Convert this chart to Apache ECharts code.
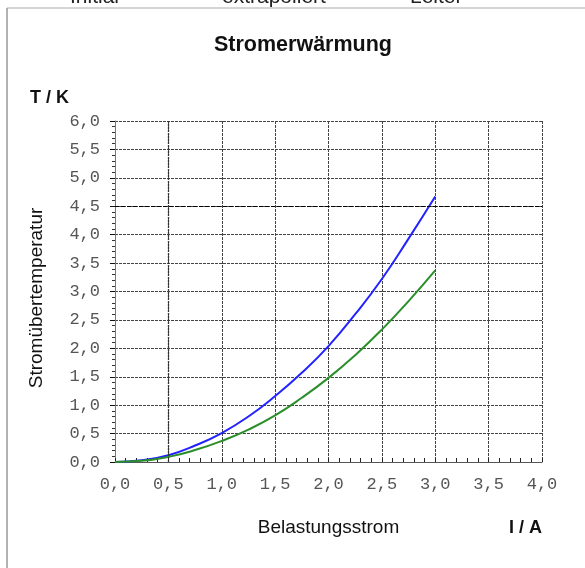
<!DOCTYPE html>
<html>
<head>
<meta charset="utf-8">
<script src="https://cdn.jsdelivr.net/npm/echarts@6/dist/echarts.min.js"></script>
<style>
html,body{margin:0;padding:0;background:#fff;}
#chart{width:585px;height:568px;}
</style>
</head>
<body>
<div id="chart"></div>
<script>
// Data
const current = [0, 0.25, 0.5, 0.75, 1.0, 1.25, 1.5, 1.75, 2.0, 2.25, 2.5, 2.75, 3.0];
const initialTemp = [0, 0.03, 0.12, 0.29, 0.51, 0.80, 1.16, 1.57, 2.04, 2.60, 3.22, 3.93, 4.67];
const leiterTemp = [0, 0.02, 0.09, 0.21, 0.37, 0.57, 0.82, 1.13, 1.48, 1.88, 2.33, 2.83, 3.37];
const extrapoliertTemp = [];
const legendNames = ['Initial', 'extrapoliert', 'Leiter'];
const thresholdY = 4.5;
const thresholdX = 0.5;

const fmt = v => v.toFixed(1).replace('.', ',');
const pairs = (xs, ys) => ys.map((y, i) => [xs[i], y]);

const chart = echarts.init(document.getElementById('chart'), null, {renderer: 'canvas'});
const legendBase = {
  top: -13, orient: 'horizontal', itemWidth: 25, itemHeight: 2, padding: 0, icon: 'rect',
  textStyle: {fontFamily: 'Liberation Sans', fontSize: 21, color: '#222'},
  inactiveColor: '#ccc'
};
chart.setOption({
  backgroundColor: '#fff',
  animation: false,
  title: {
    text: 'Stromerwärmung', left: 214, top: 34, padding: 0,
    textStyle: {fontFamily: 'Liberation Sans', fontWeight: 'bold', fontSize: 21.5, color: '#111'}
  },
  legend: [
    Object.assign({}, legendBase, {left: 40, data: [legendNames[0]]}),
    Object.assign({}, legendBase, {left: 192, data: [legendNames[1]]}),
    Object.assign({}, legendBase, {left: 380, data: [legendNames[2]]})
  ],
  grid: {left: 115, right: 43, top: 121, bottom: 106},
  xAxis: {
    type: 'value', min: 0, max: 4, interval: 0.5,
    name: 'Belastungsstrom', nameLocation: 'middle', nameGap: 56,
    nameTextStyle: {fontFamily: 'Liberation Sans', fontSize: 19, color: '#111'},
    axisLine: {show: true, lineStyle: {color: '#555', width: 1}},
    axisTick: {show: true, inside: true, length: 4, lineStyle: {color: '#222'}},
    minorTick: {show: true, splitNumber: 5, length: 4, lineStyle: {color: '#222'}},
    axisLabel: {formatter: fmt, margin: 14, fontFamily: 'Liberation Mono', fontSize: 17, color: '#555'},
    splitLine: {show: true, lineStyle: {color: '#444', type: [3, 1], width: 1}}
  },
  yAxis: {
    type: 'value', min: 0, max: 6, interval: 0.5,
    name: 'Stromübertemperatur', nameLocation: 'middle', nameGap: 69, nameRotate: 90,
    nameTextStyle: {fontFamily: 'Liberation Sans', fontSize: 19, color: '#111', padding: [0, 13, 0, 0]},
    axisLine: {show: true, lineStyle: {color: '#777', width: 1}},
    axisTick: {show: true, inside: false, length: 5, lineStyle: {color: '#111'}},
    minorTick: {show: true, splitNumber: 5, length: 3, lineStyle: {color: '#333'}},
    axisLabel: {formatter: fmt, margin: 15, fontFamily: 'Liberation Mono', fontSize: 17, color: '#555'},
    splitLine: {show: true, lineStyle: {color: '#444', type: [3, 1], width: 1}}
  },
  series: [
    {
      name: legendNames[0], type: 'line', smooth: true, showSymbol: false,
      data: pairs(current, initialTemp),
      lineStyle: {color: '#2222ff', width: 2}, itemStyle: {color: '#2222ff'},
      markLine: {
        silent: true, symbol: 'none', label: {show: false},
        lineStyle: {color: '#000', type: [4, 2], width: 1.2},
        data: [{yAxis: thresholdY}, {xAxis: thresholdX, lineStyle: {color: '#333', type: [2, 1], width: 1.3}}]
      }
    },
    {
      name: legendNames[1], type: 'line', smooth: true, showSymbol: false,
      data: pairs(current, extrapoliertTemp),
      lineStyle: {color: '#888', width: 2}, itemStyle: {color: '#888'}
    },
    {
      name: legendNames[2], type: 'line', smooth: true, showSymbol: false,
      data: pairs(current, leiterTemp),
      lineStyle: {color: '#2a8f2a', width: 2}, itemStyle: {color: '#2a8f2a'}
    }
  ],
  graphic: [
    {type: 'line', shape: {x1: 7, y1: 8, x2: 585, y2: 8}, style: {stroke: '#aaa', lineWidth: 1}},
    {type: 'line', shape: {x1: 7, y1: 8, x2: 7, y2: 568}, style: {stroke: '#999', lineWidth: 1.5}},
    {type: 'text', left: 30, top: 89, style: {text: 'T / K', font: 'bold 18px "Liberation Sans"', fill: '#111'}},
    {type: 'text', right: 43, top: 519, style: {text: 'I / A', font: 'bold 18px "Liberation Sans"', fill: '#111'}}
  ]
});
</script>
</body>
</html>
